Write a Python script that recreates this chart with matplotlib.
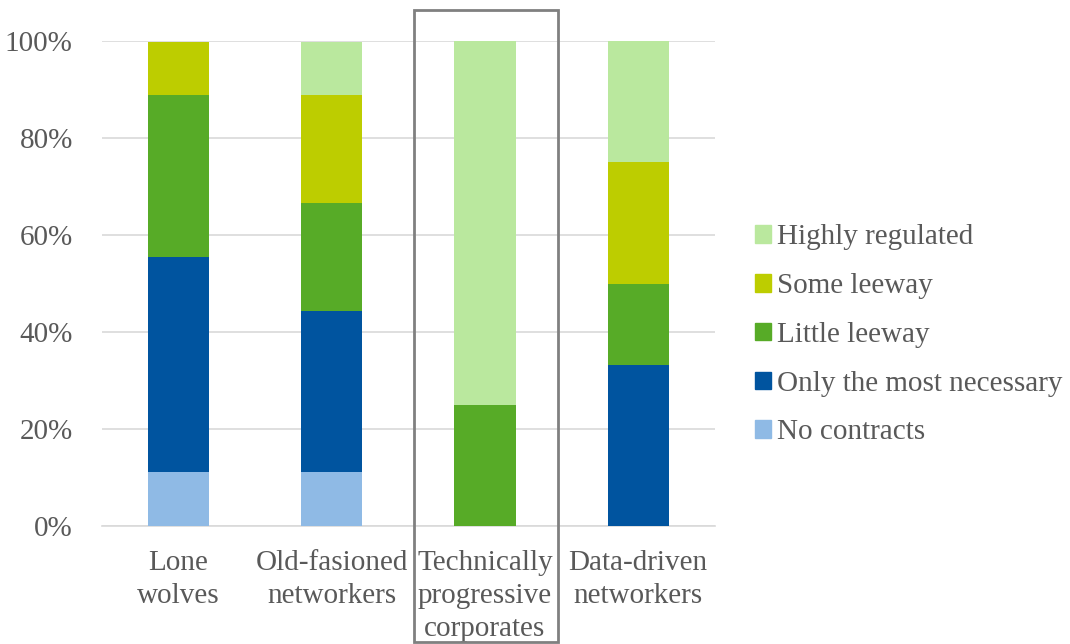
import matplotlib
matplotlib.use("Agg")
import matplotlib.pyplot as plt
from matplotlib.patches import Patch, Rectangle
import numpy as np

plt.rcParams['font.family'] = ['Liberation Serif', 'DejaVu Serif']

categories = ["Lone\nwolves", "Old-fasioned\nnetworkers", "Technically\nprogressive\ncorporates", "Data-driven\nnetworkers"]
series_names = ["No contracts", "Only the most necessary", "Little leeway", "Some leeway", "Highly regulated"]
no_contracts = [11.1, 11.1, 0.0, 0.0]
only_necessary = [44.4, 33.3, 0.0, 33.3]
little_leeway = [33.3, 22.2, 25.0, 16.7]
some_leeway = [11.1, 22.2, 0.0, 25.0]
highly_regulated = [0.0, 11.1, 75.0, 25.0]
colors = ["#8FBAE5", "#00549F", "#57AB27", "#BDCD00", "#BAE89E"]
yticks = [0, 20, 40, 60, 80, 100]

text_color = "#595959"
fs = 21
fig = plt.figure(figsize=(10.7, 6.44), dpi=100)
ax = fig.add_axes([0.0953, 0.1832, 0.5727, 0.7531])

x = np.arange(len(categories))
bottom = np.zeros(len(categories))
all_series = [no_contracts, only_necessary, little_leeway, some_leeway, highly_regulated]
for vals, col, name in zip(all_series, colors, series_names):
    v = np.array(vals)
    ax.bar(x, v, 0.4, bottom=bottom, color=col, label=name, zorder=3)
    bottom += v

ax.set_xlim(-0.5, 3.5)
ax.set_ylim(0, 100)
ax.set_yticks(yticks)
ax.set_yticklabels([f"{t}%" for t in yticks])
ax.set_xticks(x)
ax.set_xticklabels(categories, linespacing=1.36)
ax.yaxis.grid(True, color="#D9D9D9", linewidth=1.2, zorder=0)
for s in ["top", "right", "left"]:
    ax.spines[s].set_visible(False)
ax.spines["bottom"].set_color("#D9D9D9")
ax.spines["bottom"].set_linewidth(1.2)
ax.tick_params(axis="both", length=0, labelsize=fs, colors=text_color)
ax.tick_params(axis="y", pad=21)
ax.tick_params(axis="x", pad=17)

handles = [Patch(color=c, label=n) for c, n in zip(colors, series_names)][::-1]
leg = fig.legend(handles=handles, loc="center left", bbox_to_anchor=(0.706, 0.48),
                 frameon=False, fontsize=fs, handlelength=0.55, handleheight=0.55,
                 handletextpad=0.2, labelspacing=0.78, labelcolor=text_color,
                 borderaxespad=0, borderpad=0)

# outline around the third category
fig.patches.append(Rectangle((414 / 1070, 2 / 644), 144 / 1070, 632 / 644,
                             transform=fig.transFigure, fill=False,
                             edgecolor="#808080", linewidth=2))

fig.savefig("out.png", dpi=100)
